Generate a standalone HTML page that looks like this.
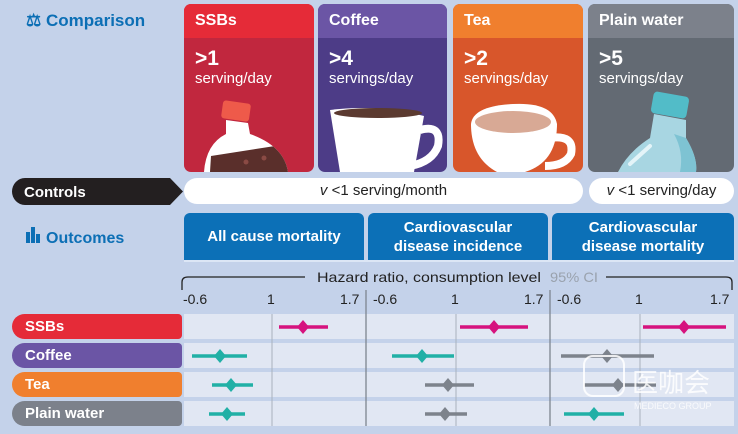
<!DOCTYPE html>
<html><head><meta charset="utf-8"><style>
*{margin:0;padding:0;box-sizing:border-box}
body{width:738px;height:434px;background:#c4d2ea;font-family:"Liberation Sans",sans-serif;position:relative;overflow:hidden}
.a{position:absolute}
.card{position:absolute;top:4px;height:168px;border-radius:7px;overflow:hidden;color:#fff}
.card .h{height:34px;font-weight:bold;font-size:16px;padding:8px 0 0 11px}
.card .b{height:134px;padding:10px 0 0 11px;font-size:15px;line-height:18px;position:relative}
.card .b b{font-size:21px;display:block;line-height:22px}
.card svg{position:absolute;left:0;top:0}
.pill{position:absolute;border-radius:13px;font-size:15px}
.lab{position:absolute;left:12px;width:170px;height:25px;border-radius:0 4px 4px 0;border-top-left-radius:13px;border-bottom-left-radius:13px;color:#fff;font-weight:bold;font-size:15px;padding:4px 0 0 13px}
.out{position:absolute;top:213px;height:47px;background:#0c70b7;color:#fff;font-weight:bold;font-size:15px;text-align:center;border-radius:6px 6px 0 0;line-height:19px;display:flex;align-items:center;justify-content:center}
</style></head><body>
<div class="a" style="left:26px;top:11px;color:#0c6fb5;font-weight:bold;font-size:17px">⚖ Comparison</div>

<div class="card" style="left:184px;width:130px;background:#c1273e"><div class="h" style="background:#e52b38">SSBs</div><div class="b"><b>&gt;1</b>serving/day
<svg width="130" height="134"><defs><clipPath id="bt"><path d="M42 82 L64 85 L66 96 Q100 108 104 134 L20 134 Q22 106 42 96Z"/></clipPath></defs>
<rect x="38" y="64" width="28" height="18" rx="3" fill="#ee5a4a" transform="rotate(8 52 73)"/>
<path d="M42 82 L64 85 L66 96 Q100 108 104 134 L20 134 Q22 106 42 96Z" fill="#fff"/>
<g clip-path="url(#bt)"><path d="M26 134 L27 118 L104 106 L104 134Z" fill="#5a2f2b"/></g>
<circle cx="62" cy="124" r="2.5" fill="#8a4a44"/><circle cx="80" cy="120" r="2.5" fill="#8a4a44"/></svg></div></div>

<div class="card" style="left:318px;width:129px;background:#4d3c87"><div class="h" style="background:#6b55a5">Coffee</div><div class="b"><b>&gt;4</b>servings/day
<svg width="129" height="134"><path d="M102 92 Q124 86 120 108 Q114 124 92 128" stroke="#fff" stroke-width="8" fill="none"/><path d="M12 72 Q60 66 106 78 L96 134 L22 134Z" fill="#fff"/><ellipse cx="60" cy="75" rx="44" ry="5" fill="#5b3a30"/></svg></div></div>

<div class="card" style="left:453px;width:130px;background:#d8562b"><div class="h" style="background:#f07f2e">Tea</div><div class="b"><b>&gt;2</b>servings/day
<svg width="130" height="134"><path d="M96 100 Q122 96 118 116 Q112 128 92 128" stroke="#fff" stroke-width="8" fill="none"/><path d="M18 86 Q20 68 60 66 Q100 64 104 86 Q104 124 72 134 L44 134 Q18 120 18 86Z" fill="#fff"/><ellipse cx="60" cy="84" rx="38" ry="11" fill="#d8a995"/></svg></div></div>

<div class="card" style="left:588px;width:146px;background:#636a73"><div class="h" style="background:#7c818b">Plain water</div><div class="b"><b>&gt;5</b>servings/day
<svg width="146" height="134"><rect x="64" y="56" width="36" height="22" rx="4" fill="#52bcc8" transform="rotate(10 82 67)"/><path d="M66 76 L98 82 L98 100 Q110 120 108 134 L30 134 Q40 114 62 100Z" fill="#a8d6e2"/><path d="M98 100 Q110 120 108 134 L92 134 Q96 114 86 96Z" fill="#7ec3d3"/><path d="M42 126 L62 108" stroke="#e4f4f8" stroke-width="4" stroke-linecap="round"/></svg></div></div>

<svg class="a" style="left:12px;top:178px" width="172" height="27"><path d="M13 0 H158 L171 13.5 L158 27 H13 A13 13.5 0 0 1 13 0Z" fill="#231f20"/><text x="12" y="19" fill="#fff" font-weight="bold" font-size="15" font-family="Liberation Sans">Controls</text></svg>
<div class="pill" style="left:184px;top:178px;width:399px;height:26px;background:#fff;text-align:center;padding-top:4px;color:#222"><i>v</i> &lt;1 serving/month</div>
<div class="pill" style="left:589px;top:178px;width:145px;height:26px;background:#fff;text-align:center;padding-top:4px;color:#222"><i>v</i> &lt;1 serving/day</div>

<div class="a" style="left:26px;top:227px;color:#0c6fb5;font-weight:bold;font-size:16px"><span style="display:inline-block;width:4px;height:11px;background:#0c6fb5;margin-right:1px"></span><span style="display:inline-block;width:4px;height:16px;background:#0c6fb5;margin-right:1px"></span><span style="display:inline-block;width:4px;height:9px;background:#0c6fb5;margin-right:6px"></span>Outcomes</div>
<div class="out" style="left:184px;width:180px">All cause mortality</div>
<div class="out" style="left:368px;width:180px">Cardiovascular<br>disease incidence</div>
<div class="out" style="left:552px;width:182px">Cardiovascular<br>disease mortality</div>

<div class="lab" style="top:314px;background:#e52b38">SSBs</div>
<div class="lab" style="top:343px;background:#6b55a5">Coffee</div>
<div class="lab" style="top:372px;background:#f07f2e">Tea</div>
<div class="lab" style="top:401px;background:#7c818b">Plain water</div>

<svg class="a" style="left:0;top:0" width="738" height="434" font-family="Liberation Sans">
<line x1="184" y1="261" x2="734" y2="261" stroke="#dce6f5" stroke-width="2"/>
<path d="M182 290 V282 Q182 277 188 277 H305 M606 277 H726 Q732 277 732 282 V290" stroke="#222" stroke-width="1.3" fill="none"/>
<text x="317" y="282" font-size="14" fill="#222" textLength="224" lengthAdjust="spacingAndGlyphs">Hazard ratio, consumption level</text>
<text x="550" y="282" font-size="14" fill="#9aa2ad" textLength="48" lengthAdjust="spacingAndGlyphs">95% CI</text>
<g font-size="14" fill="#222">
<text x="183" y="304">-0.6</text><text x="267" y="304">1</text><text x="340" y="304">1.7</text>
<text x="373" y="304">-0.6</text><text x="451" y="304">1</text><text x="524" y="304">1.7</text>
<text x="557" y="304">-0.6</text><text x="635" y="304">1</text><text x="710" y="304">1.7</text>
</g>
<g fill="#e1e7f3">
<rect x="184" y="314" width="550" height="25"/><rect x="184" y="343" width="550" height="25"/><rect x="184" y="372" width="550" height="25"/><rect x="184" y="401" width="550" height="25"/>
</g>
<g stroke="#7d8590" stroke-width="1.3"><line x1="366" y1="290" x2="366" y2="426"/><line x1="550" y1="290" x2="550" y2="426"/></g>
<g stroke="#a9b1bd" stroke-width="1"><line x1="272" y1="314" x2="272" y2="426"/><line x1="456" y1="314" x2="456" y2="426"/><line x1="640" y1="314" x2="640" y2="426"/></g>
<g stroke-width="3.5">
<line x1="279" x2="328" y1="327" y2="327" stroke="#d6137e"/><line x1="460" x2="528" y1="327" y2="327" stroke="#d6137e"/><line x1="643" x2="726" y1="327" y2="327" stroke="#d6137e"/>
<line x1="192" x2="247" y1="356" y2="356" stroke="#21b0a6"/><line x1="392" x2="454" y1="356" y2="356" stroke="#21b0a6"/><line x1="561" x2="654" y1="356" y2="356" stroke="#7d838c"/>
<line x1="212" x2="253" y1="385" y2="385" stroke="#21b0a6"/><line x1="425" x2="474" y1="385" y2="385" stroke="#7d838c"/><line x1="584" x2="656" y1="385" y2="385" stroke="#7d838c"/>
<line x1="209" x2="245" y1="414" y2="414" stroke="#21b0a6"/><line x1="425" x2="467" y1="414" y2="414" stroke="#7d838c"/><line x1="564" x2="624" y1="414" y2="414" stroke="#21b0a6"/>
</g>
<g>
<path d="M303 320l6 7-6 7-6-7z" fill="#d6137e"/><path d="M494 320l6 7-6 7-6-7z" fill="#d6137e"/><path d="M684 320l6 7-6 7-6-7z" fill="#d6137e"/>
<path d="M220 349l6 7-6 7-6-7z" fill="#21b0a6"/><path d="M422 349l6 7-6 7-6-7z" fill="#21b0a6"/><path d="M607 349l6 7-6 7-6-7z" fill="#7d838c"/>
<path d="M231 378l6 7-6 7-6-7z" fill="#21b0a6"/><path d="M448 378l6 7-6 7-6-7z" fill="#7d838c"/><path d="M618 378l6 7-6 7-6-7z" fill="#7d838c"/>
<path d="M227 407l6 7-6 7-6-7z" fill="#21b0a6"/><path d="M445 407l6 7-6 7-6-7z" fill="#7d838c"/><path d="M594 407l6 7-6 7-6-7z" fill="#21b0a6"/>
</g>
<rect x="584" y="356" width="40" height="40" rx="9" fill="none" stroke="#fff" stroke-width="2" opacity="0.85"/>
<text x="632" y="392" font-size="26" fill="#fff" opacity="0.85" font-family="Noto Sans CJK SC,sans-serif">医咖会</text>
<text x="634" y="409" font-size="9" fill="#fff" opacity="0.8">MEDIECO GROUP</text>
</svg>
</body></html>
